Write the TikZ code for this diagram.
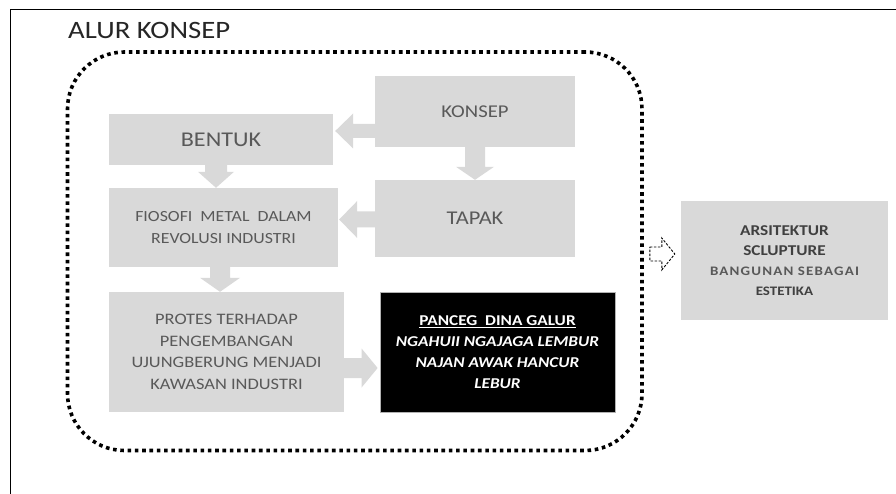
\documentclass[tikz,border=0pt]{standalone}
\usepackage{fontspec}
\setmainfont{Carlito}[FakeStretch=1.15]
\usetikzlibrary{calc}
\definecolor{boxgray}{HTML}{D9D9D9}
\definecolor{txtgray}{HTML}{595959}
\definecolor{darkgray2}{HTML}{404040}
\tikzset{
  gbox/.style={fill=boxgray, inner sep=0pt, align=center, text=txtgray},
  arr/.style={fill=boxgray},
  oarr/.style={draw=black, fill=white, dashed, dash pattern=on 2.5pt off 1.5pt, line width=0.9pt},
}
\newcommand\blkarr[6][arr]{%
  \coordinate (ah) at ($(#3)!#6!(#2)$);
  \path[#1] ($(#2)!#4!90:(#3)$) -- ($(ah)!#4!90:(#3)$) -- ($(ah)!#5!90:(#3)$) -- (#3)
    -- ($(ah)!#5!-90:(#3)$) -- ($(ah)!#4!-90:(#3)$) -- ($(#2)!#4!-90:(#3)$) -- cycle;
}
\begin{document}
\begin{tikzpicture}[x=1pt,y=1pt]
\useasboundingbox[fill=white] (0,0) rectangle (896,-494);
% outer frame
\draw[line width=1.5pt] (10.5,-500) -- (10.5,-9.5) -- (900,-9.5);
% title
\node[anchor=base west, inner sep=0pt, text=black!85, font=\fontsize{25}{30}\selectfont] (title) at (68,-39) {ALUR KONSEP};
% dotted container
\node[draw, line width=3.6pt, dash pattern=on 3.6pt off 3.7pt, rounded corners=57pt,
      minimum width=574.5pt, minimum height=398.5pt, inner sep=0pt] (alur) at (354.75,-251.25) {};
% boxes
\node[gbox, minimum width=200pt, minimum height=71pt, font=\fontsize{18}{22}\selectfont] (konsep) at (475,-111.5) {KONSEP};
\node[gbox, minimum width=224pt, minimum height=51pt, font=\fontsize{21}{26}\selectfont] (bentuk) at (221,-139.5) {BENTUK};
\node[gbox, minimum width=229pt, minimum height=79pt, font=\fontsize{15.5}{22}\selectfont] (fiosofi) at (223.5,-227.5) {FIOSOFI\ \ METAL\ \ DALAM\\REVOLUSI INDUSTRI};
\node[gbox, minimum width=200pt, minimum height=77pt, font=\fontsize{19.5}{24}\selectfont] (tapak) at (475,-218.5) {TAPAK};
\node[gbox, minimum width=235pt, minimum height=120pt, font=\fontsize{16}{21.5}\selectfont] (protes) at (226.5,-352) {PROTES TERHADAP\\PENGEMBANGAN\\UJUNGBERUNG MENJADI\\KAWASAN INDUSTRI};
\node[fill=black, draw=gray!60, line width=0.8pt, minimum width=235pt, minimum height=120pt, inner sep=0pt, align=center, text=white,
      font=\bfseries\fontsize{15}{21}\selectfont] (panceg) at (497.5,-352)
  {\underline{PANCEG\ \ DINA GALUR}\\\textit{NGAHUII NGAJAGA LEMBUR}\\\textit{NAJAN AWAK HANCUR}\\\textit{LEBUR}};
\node[gbox, minimum width=207pt, minimum height=119pt, text=darkgray2, font=\bfseries\fontsize{15}{20}\selectfont] (arsi) at (784.5,-260.5)
  {ARSITEKTUR\\SCLUPTURE\\\color{txtgray}\fontsize{13}{21}\selectfont\addfontfeature{LetterSpace=9}BANGUNAN SEBAGAI\\\fontsize{13}{18}\selectfont ESTETIKA};
% arrows
\coordinate (a1) at ($(konsep.west)+(0,-19.5)$);
\coordinate (t1) at (bentuk.east |- a1);
\coordinate (b1) at ($(t1)+(2,0)$);
\blkarr{a1}{b1}{7pt}{17.5pt}{18pt}
\coordinate (a2) at ($(tapak.west)+(0,-1)$);
\coordinate (t2) at (fiosofi.east |- a2);
\coordinate (b2) at ($(t2)+(1,0)$);
\blkarr{a2}{b2}{8pt}{18.5pt}{18pt}
\coordinate (a3) at ($(bentuk.south)+(-5,0)$);
\coordinate (b3) at (a3 |- fiosofi.north);
\blkarr{a3}{b3}{11pt}{18pt}{16pt}
\coordinate (a4) at (konsep.south);
\coordinate (b4) at (a4 |- tapak.north);
\blkarr{a4}{b4}{10pt}{19pt}{13pt}
\coordinate (a5) at ($(fiosofi.south)+(-3.5,0)$);
\coordinate (b5) at (a5 |- protes.north);
\blkarr{a5}{b5}{10pt}{20pt}{14pt}
\coordinate (a6) at ($(protes.east)+(0,-16)$);
\coordinate (t6) at (panceg.west |- a6);
\coordinate (b6) at ($(t6)+(-2,0)$);
\blkarr{a6}{b6}{10pt}{19.5pt}{16pt}
\coordinate (a7) at ($(alur.east)+(6,-2.75)$);
\coordinate (t7) at (arsi.west |- a7);
\coordinate (b7) at ($(t7)+(-6,0)$);
\blkarr[oarr]{a7}{b7}{7pt}{16pt}{13pt}
\end{tikzpicture}
\end{document}
